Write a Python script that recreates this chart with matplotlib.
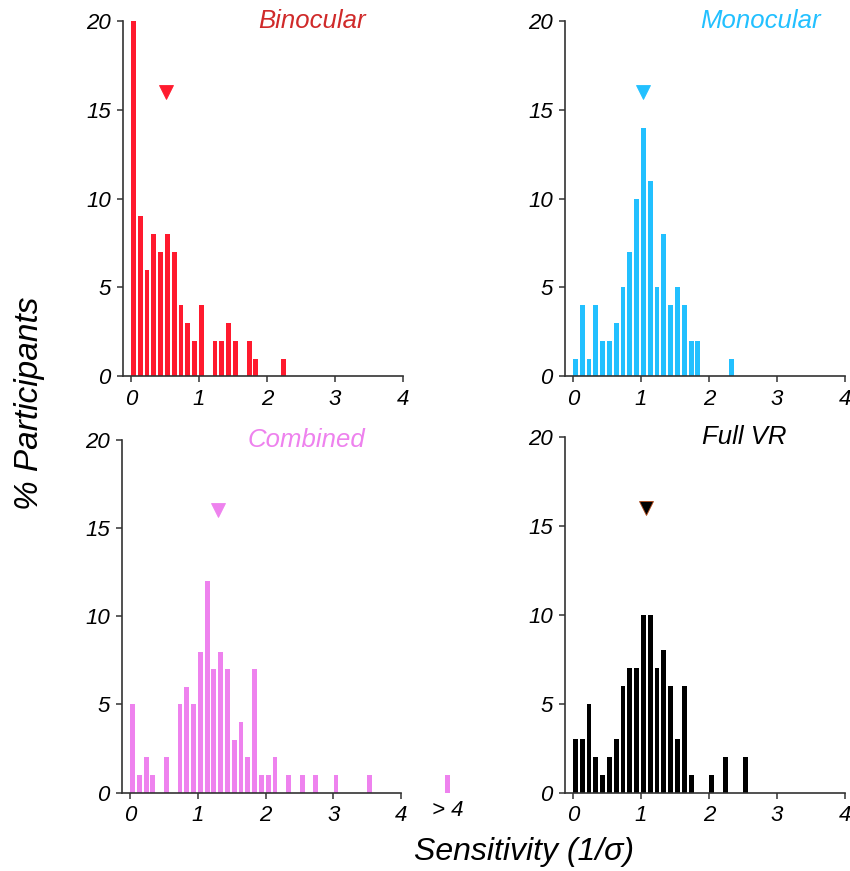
import numpy as np
import matplotlib.pyplot as plt

plt.rcParams['font.family'] = ['Liberation Sans', 'DejaVu Sans']
plt.rcParams['font.style'] = 'italic'

# % participants per 0.1-wide sensitivity bin, starting at 0
binocular = [20, 9, 6, 8, 7, 8, 7, 4, 3, 2, 4, 0, 2, 2, 3, 2, 0, 2, 1, 0, 0, 0, 1]
monocular = [1, 4, 1, 4, 2, 2, 3, 5, 7, 10, 14, 11, 5, 8, 4, 5, 4, 2, 2, 0, 0, 0, 0, 1]
combined = [5, 1, 2, 1, 0, 2, 0, 5, 6, 5, 8, 12, 7, 8, 7, 3, 4, 2, 7, 1, 1, 2, 0, 1,
            0, 1, 0, 1, 0, 0, 1, 0, 0, 0, 0, 1]
combined_over4 = 1
full_vr = [3, 3, 5, 2, 1, 2, 3, 6, 7, 7, 10, 10, 7, 8, 6, 3, 6, 1, 0, 0, 1, 0, 2, 0, 0, 2]

# mean sensitivity markers
means = {'Binocular': 0.52, 'Monocular': 1.04, 'Combined': 1.30, 'Full VR': 1.07}

panels = [
    ('Binocular', binocular, '#ff1a2e', '#d02a2a', 0.675, [0.145, 0.568, 0.329, 0.408]),
    ('Monocular', monocular, '#22c0ff', '#22c0ff', 0.70, [0.665, 0.568, 0.329, 0.408]),
    ('Combined', combined, '#ee82ee', '#ee82ee', 0.66, [0.144, 0.090, 0.328, 0.405]),
    ('Full VR', full_vr, 'black', 'black', 0.64, [0.665, 0.090, 0.329, 0.408]),
]

fig = plt.figure(figsize=(8.5, 8.71), dpi=100)

for name, counts, color, title_color, title_x, rect in panels:
    ax = fig.add_axes(rect)
    left = np.arange(len(counts)) * 0.1 + 0.003
    ax.bar(left, counts, width=0.072, align='edge', color=color, linewidth=0)
    edge = '#b34a1a' if name == 'Full VR' else color
    ax.plot(means[name], 16, marker='v', markersize=10, color=color,
            markeredgecolor=edge, markeredgewidth=0.6, linestyle='none')
    if name == 'Combined':
        ax.bar(4.65, combined_over4, width=0.072, align='edge', color=color,
               linewidth=0, clip_on=False)
        ax.text(4.69, -0.022, '> 4', transform=ax.get_xaxis_transform(),
                ha='center', va='top', fontsize=16)
    ax.set_xlim(-0.11, 4)
    ax.set_ylim(0, 20)
    ax.set_xticks([0, 1, 2, 3, 4])
    ax.set_yticks([0, 5, 10, 15, 20])
    ax.tick_params(labelsize=16, length=4, width=1.1, color='#333333', pad=5)
    for s in ['top', 'right']:
        ax.spines[s].set_visible(False)
    for s in ['left', 'bottom']:
        ax.spines[s].set_linewidth(1.2)
        ax.spines[s].set_color('#333333')
    ax.text(title_x, 1.0, name, transform=ax.transAxes, ha='center', va='center',
            fontsize=18.5, color=title_color)

fig.text(0.035, 0.537, '% Participants', rotation=90, ha='center', va='center',
         fontsize=24)
fig.text(0.616, 0.022, 'Sensitivity (1/σ)', ha='center', va='center', fontsize=23)

fig.savefig('out.png', dpi=100)
